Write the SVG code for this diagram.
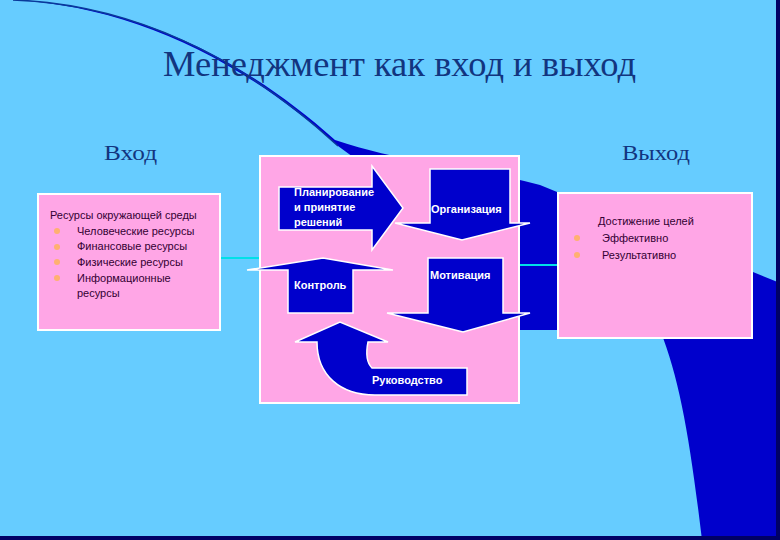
<svg xmlns="http://www.w3.org/2000/svg" width="780" height="540" viewBox="0 0 780 540">
<style>
.box{fill:#FFA6E6;stroke:#fff;stroke-width:2}
.arr{fill:#0000CC;stroke:#fff;stroke-width:1.5}
.lbl{font-family:"Liberation Sans",Arial,sans-serif;font-size:11px;font-weight:bold;fill:#fff}
.txt{font-family:"Liberation Sans",Arial,sans-serif;font-size:11px;fill:#330033}
.hd{font-family:"Liberation Serif","Times New Roman",serif;fill:#12357F}
.dot{fill:#FFB070}
.con{stroke:#00E0E8;stroke-width:2;fill:none}
</style>
<rect width="780" height="540" fill="#66CCFF"/>
<path d="M13,0 C130,4 240,55 335,140 C410,165 480,168 540,185 L780,283 L780,540 L702,540 C690,440 680,380 660,330 L520,330 C470,260 400,190 338,146 C240,58 130,6 13,0 Z" fill="#0000CC"/>
<path d="M13,0 C130,4 240,55 338,146" fill="none" stroke="#0A3A9A" stroke-width="1.5"/>
<rect x="776" y="0" width="4" height="540" fill="#000066"/>
<rect x="0" y="536" width="780" height="4" fill="#000066"/>
<text class="hd" x="163" y="76" font-size="35" textLength="473" lengthAdjust="spacingAndGlyphs">Менеджмент как вход и выход</text>
<text class="hd" x="104" y="160" font-size="22" textLength="53" lengthAdjust="spacingAndGlyphs">Вход</text>
<text class="hd" x="622" y="160" font-size="22" textLength="68" lengthAdjust="spacingAndGlyphs">Выход</text>
<g id="connectors">
<line class="con" x1="220" y1="258" x2="261" y2="258"/>
<line class="con" x1="504" y1="265" x2="558" y2="265"/>
</g>
<g id="input">
<rect class="box" x="38" y="194" width="182" height="136"/>
<text class="txt" x="50" y="219">Ресурсы окружающей среды</text>
<circle class="dot" cx="57" cy="231" r="3"/><text class="txt" x="77" y="235">Человеческие ресурсы</text>
<circle class="dot" cx="57" cy="247" r="3"/><text class="txt" x="77" y="250">Финансовые ресурсы</text>
<circle class="dot" cx="57" cy="262" r="3"/><text class="txt" x="77" y="266">Физические ресурсы</text>
<circle class="dot" cx="57" cy="278" r="3"/><text class="txt" x="77" y="282">Информационные</text>
<text class="txt" x="77" y="297">ресурсы</text>
</g>
<g id="output">
<rect class="box" x="558" y="193" width="194" height="145"/>
<text class="txt" x="598" y="225">Достижение целей</text>
<circle class="dot" cx="577" cy="238" r="3"/><text class="txt" x="602" y="242">Эффективно</text>
<circle class="dot" cx="577" cy="255" r="3"/><text class="txt" x="602" y="259">Результативно</text>
</g>
<g id="process">
<rect class="box" x="260" y="156" width="259" height="247"/>
<g id="planning"><path class="arr" d="M279,187 L372,187 L372,166 L403,208 L372,250 L372,230 L279,230 Z"/>
<text class="lbl" x="294" y="196">Планирование</text><text class="lbl" x="294" y="211">и принятие</text><text class="lbl" x="294" y="226">решений</text></g>
<g id="organization"><path class="arr" d="M430,169 L510,169 L510,223 L530,223 L462,240 L395,223 L430,223 Z"/>
<text class="lbl" x="431" y="213">Организация</text></g>
<g id="motivation"><path class="arr" d="M428,258 L503,258 L503,313 L530,313 L463,332 L387,313 L428,313 Z"/>
<text class="lbl" x="430" y="279">Мотивация</text></g>
<g id="control"><path class="arr" d="M288,313 L353,313 L353,270 L393,270 L323,258 L247,270 L288,270 Z"/>
<text class="lbl" x="294" y="289">Контроль</text></g>
<g id="leadership"><path class="arr" d="M467,368 L372,368 C366,362 366,352 368,342 L388,342 L340,322 L295,342 L317,342 C317,375 340,395 375,395 L467,395 Z"/>
<text class="lbl" x="372" y="384">Руководство</text></g>
</g>
</svg>
